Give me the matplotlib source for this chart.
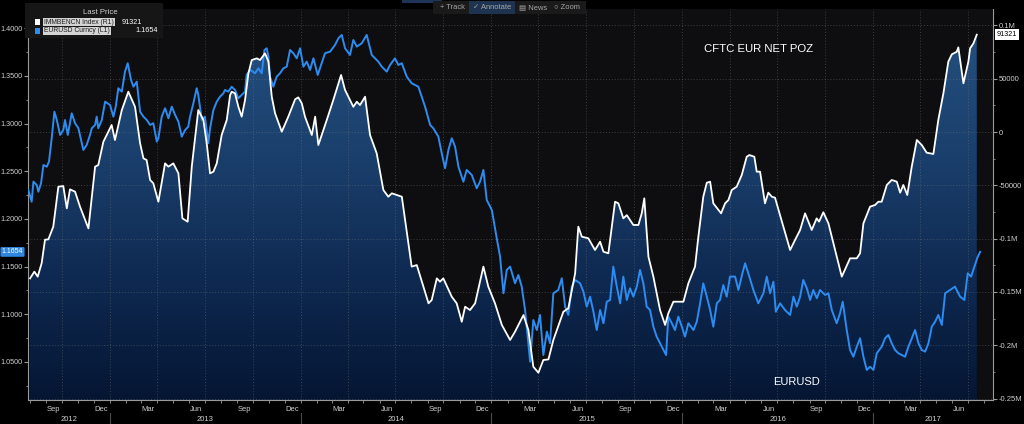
import numpy as np
import pandas as pd
import matplotlib
matplotlib.use("Agg")
import matplotlib.pyplot as plt
import matplotlib.dates as mdates
import matplotlib.transforms as mtransforms
from matplotlib.colors import LinearSegmentedColormap
from matplotlib.patches import Rectangle
from matplotlib.ticker import MultipleLocator, FuncFormatter

plt.rcParams['font.family'] = ['Liberation Sans', 'DejaVu Sans']

# time of each point, in months since 2013-01-01
cftc_m = [-5.03, -4.76, -4.55, -4.30, -4.09, -3.88, -3.57, -3.25, -2.94, -2.72, -2.52, -2.20, -1.89,
          -1.36, -0.94, -0.74, -0.42, 0.10, 0.31, 0.74, 1.15, 1.57, 1.89, 2.10, 2.30, 2.52, 2.72,
          3.04, 3.46, 3.67, 3.98, 4.30, 4.55, 4.88, 5.14, 5.55, 5.87, 6.08, 6.29, 6.50, 6.71, 7.02,
          7.34, 7.55, 7.65, 7.86, 8.07, 8.28, 8.49, 8.70, 8.91, 9.23, 9.43, 9.75, 9.96, 10.17, 10.38,
          10.80, 11.21, 11.64, 11.84, 12.06, 12.26, 12.69, 12.90, 13.10, 13.63, 14.04, 14.53, 14.78,
          15.09, 15.30, 15.52, 15.72, 16.04, 16.35, 16.77, 17.19, 17.50, 17.72, 18.03, 18.35, 18.97,
          19.29, 20.03, 20.23, 20.55, 20.75, 20.96, 21.49, 21.80, 22.12, 22.33, 22.64, 22.96, 23.48,
          23.79, 24.21, 24.64, 25.16, 25.47, 26.00, 26.31, 26.62, 26.94, 27.25, 27.57, 27.88, 28.51,
          28.82, 29.25, 29.45, 29.67, 30.08, 30.50, 30.82, 31.03, 31.34, 31.76, 31.97, 32.28, 32.50,
          32.91, 33.23, 33.44, 33.60, 33.86, 34.17, 34.59, 34.91, 35.11, 35.43, 36.06, 36.37, 36.79,
          37.00, 37.31, 37.53, 37.74, 37.94, 38.43, 38.68, 38.89, 39.10, 39.41, 39.73, 40.04, 40.21,
          40.52, 40.67, 40.88, 41.19, 41.40, 41.62, 41.82, 42.77, 43.08, 43.40, 43.71, 44.13, 44.44,
          44.59, 44.86, 45.18, 45.60, 46.02, 46.54, 46.96, 47.17, 47.38, 47.80, 48.11, 48.32, 48.53,
          48.85, 49.16, 49.48, 49.69, 49.89, 50.14, 50.42, 50.74, 51.05, 51.36, 51.78, 52.09, 52.41,
          52.72, 52.94, 53.25, 53.35, 53.67, 53.98, 54.09, 54.30, 54.51]
# CFTC EUR net position, thousand contracts
cftc_k = [-137.3, -131.0, -135.7, -123.0, -101.0, -100.7, -88.8, -51.3, -50.7, -71.6, -53.8, -56.0, -70.0,
          -90.4, -32.5, -31.0, -9.1, 6.6, -7.5, 20.6, 37.8, 23.7, -10.6, -24.7, -26.3, -45.0, -48.1,
          -65.4, -29.4, -32.5, -29.4, -38.8, -81.0, -84.1, -32.5, 20.6, 11.3, -10.6, -38.8, -37.2, -29.4, -2.8,
          11.3, 34.7, 37.8, 36.3, 23.7, 14.4, 30.0, 55.0, 67.5, 69.1, 67.5, 73.8, 66.0, 33.1, 17.5,
          0.3, 14.4, 30.7, 32.5, 26.9, 14.4, -2.8, 14.4, -12.2, 11.3, 30.0, 53.5, 39.4,
          30.0, 23.7, 28.4, 25.3, 33.1, -2.8, -20.0, -54.4, -60.7, -57.5, -59.1, -60.7, -126.3,
          -124.8, -160.7, -157.6, -137.3, -140.4, -137.3, -154.5, -160.7, -178.0, -163.9, -167.0, -160.7, -126.3,
          -145.1, -160.7, -181.0, -195.1, -187.3, -171.7, -185.7, -220.2, -225.8, -213.9, -213.3, -195.1, -168.6,
          -165.4, -132.6, -88.8, -98.2, -99.7, -110.7, -102.9, -112.3, -113.8, -65.4, -66.9, -81.0, -78.0,
          -87.2, -87.2, -76.3, -62.2, -117.0, -135.7, -167.0, -181.0, -170.1, -159.2, -159.2, -142.0, -126.3,
          -98.2, -60.7, -47.6, -46.6, -66.9, -76.3, -66.9, -63.8, -54.4, -51.3, -40.3, -23.2, -21.6,
          -23.2, -37.2, -37.2, -66.9, -56.9, -60.7, -61.6, -110.7, -101.3, -91.9, -76.3, -91.9, -81.0,
          -84.1, -75.3, -85.7, -110.7, -135.7, -118.5, -118.5, -113.8, -85.7, -70.0, -68.5, -65.4, -65.4,
          -49.7, -45.0, -46.6, -56.9, -49.7, -59.1, -32.5, -7.5, -12.2, -19.4, -20.6, 11.3, 36.3,
          66.0, 72.9, 75.3, 79.4, 45.7, 66.0, 78.5, 83.2, 91.321]

eur_m = [-5.14, -4.93, -4.82, -4.61, -4.51, -4.34, -4.19, -3.98, -3.84, -3.67, -3.50, -3.35, -3.14, -2.94,
         -2.83, -2.66, -2.41, -2.20, -1.99, -1.68, -1.47, -1.26, -1.15, -0.94, -0.84, -0.74, -0.52, -0.31,
         0.00, 0.21, 0.36, 0.52, 0.74, 0.94, 1.11, 1.32, 1.47, 1.68, 1.89, 2.10, 2.31, 2.52, 2.72, 2.94,
         3.04, 3.25, 3.46, 3.67, 3.88, 4.09, 4.30, 4.51, 4.72, 4.92, 5.03, 5.24, 5.45, 5.55, 5.77, 5.97,
         6.18, 6.29, 6.50, 6.71, 6.92, 7.13, 7.23, 7.44, 7.65, 7.86, 8.07, 8.28, 8.49, 8.59, 8.81, 9.12,
         9.33, 9.54, 9.71, 9.85, 9.96, 10.06, 10.27, 10.48, 10.69, 10.90, 11.11, 11.32, 11.53, 11.74, 11.95,
         12.16, 12.37, 12.58, 12.79, 13.06, 13.31, 13.52, 13.84, 14.15, 14.36, 14.57, 14.78, 15.09, 15.30,
         15.52, 15.83, 16.14, 16.46, 16.87, 17.09, 17.40, 17.61, 17.92, 18.13, 18.35, 18.66, 18.97, 19.39,
         19.60, 19.81, 20.13, 20.33, 20.65, 20.86, 21.07, 21.28, 21.49, 21.70, 21.91, 22.22, 22.43, 22.75,
         23.06, 23.27, 23.48, 23.69, 24.01, 24.32, 24.53, 24.74, 24.95, 25.16, 25.47, 25.68, 25.89, 26.10,
         26.31, 26.42, 26.62, 26.84, 27.04, 27.25, 27.47, 27.67, 27.88, 28.19, 28.41, 28.62, 28.82, 29.04,
         29.25, 29.56, 29.77, 29.98, 30.19, 30.40, 30.61, 30.82, 31.03, 31.24, 31.45, 31.65, 31.87, 32.08,
         32.28, 32.50, 32.70, 32.91, 33.13, 33.33, 33.54, 33.75, 33.96, 34.17, 34.38, 34.59, 34.80, 34.97,
         35.11, 35.33, 35.53, 35.74, 35.96, 36.16, 36.37, 36.69, 36.90, 37.11, 37.31, 37.53, 37.74, 37.94,
         38.16, 38.36, 38.57, 38.78, 38.99, 39.31, 39.52, 39.77, 39.94, 40.14, 40.46, 40.77, 41.09, 41.30,
         41.51, 41.72, 41.87, 42.14, 42.45, 42.77, 42.98, 43.19, 43.40, 43.60, 43.82, 44.03, 44.23, 44.45,
         44.65, 44.97, 45.18, 45.39, 45.70, 45.91, 46.08, 46.33, 46.54, 46.75, 46.96, 47.17, 47.38, 47.59,
         47.80, 48.01, 48.22, 48.53, 48.74, 48.95, 49.16, 49.37, 49.58, 49.79, 50.00, 50.21, 50.42, 50.63,
         50.84, 51.05, 51.26, 51.47, 51.68, 51.89, 52.09, 52.31, 52.52, 52.83, 53.14, 53.46, 53.73, 53.94,
         54.15, 54.36, 54.57, 54.72]
eur_v = [1.2304, 1.2181, 1.2391, 1.2356, 1.2286, 1.2374, 1.2566, 1.2548, 1.2601, 1.2846, 1.3125, 1.3038, 1.2881, 1.2933,
         1.3038, 1.2881, 1.3108, 1.3004, 1.2951, 1.2724, 1.2776, 1.2881, 1.2951, 1.2986, 1.3073, 1.2951, 1.3038, 1.3230,
         1.3195, 1.3073, 1.3178, 1.3371, 1.3335, 1.3545, 1.3633, 1.3458, 1.3387, 1.3440, 1.3125, 1.3073, 1.3038, 1.2986, 1.3004, 1.2811,
         1.2846, 1.3073, 1.3161, 1.3056, 1.3178, 1.3091, 1.3020, 1.2863, 1.2933, 1.2968, 1.3073, 1.3213, 1.3371, 1.3300, 1.3038, 1.3073,
         1.2794, 1.2951, 1.3143, 1.3230, 1.3283, 1.3318, 1.3353, 1.3335, 1.3387, 1.3353, 1.3266, 1.3300, 1.3335, 1.3510, 1.3563, 1.3528,
         1.3580, 1.3528, 1.3772, 1.3790, 1.3702, 1.3492, 1.3387, 1.3492, 1.3528, 1.3580, 1.3597, 1.3772, 1.3738, 1.3685, 1.3790,
         1.3597, 1.3650, 1.3563, 1.3685, 1.3510, 1.3633, 1.3738, 1.3755, 1.3825, 1.3895, 1.3930, 1.3790, 1.3720, 1.3877,
         1.3807, 1.3843, 1.3930, 1.3720, 1.3650, 1.3597, 1.3545, 1.3615, 1.3685, 1.3615, 1.3633, 1.3492, 1.3423, 1.3387,
         1.3283, 1.3178, 1.2986, 1.2951, 1.2863, 1.2689, 1.2532, 1.2724, 1.2846, 1.2758, 1.2548, 1.2391, 1.2514, 1.2461,
         1.2322, 1.2391, 1.2514, 1.2199, 1.2094, 1.1797, 1.1604, 1.1220, 1.1465, 1.1500, 1.1325, 1.1412, 1.1290, 1.1045,
         1.0696, 1.0503, 1.0940, 1.0835, 1.0993, 1.0573, 1.0818, 1.0696, 1.1220, 1.1255, 1.1378, 1.1080, 1.0993, 1.1290,
         1.1360, 1.1325, 1.1237, 1.1080, 1.1185, 1.1027, 1.0835, 1.1045, 1.0906, 1.1132, 1.1150, 1.1500, 1.1290, 1.1115,
         1.1395, 1.1150, 1.1273, 1.1185, 1.1290, 1.1465, 1.1325, 1.1080, 1.1045, 1.0870, 1.0765, 1.0696, 1.0626, 1.0573,
         1.0975, 1.0906, 1.0835, 1.0975, 1.0870, 1.0765, 1.0906, 1.0835, 1.0922, 1.1115, 1.1325, 1.1185, 1.1045, 1.0870,
         1.1115, 1.1150, 1.1307, 1.1185, 1.1395, 1.1395, 1.1255, 1.1430, 1.1535, 1.1430, 1.1255, 1.1115, 1.1220, 1.1395,
         1.1220, 1.1342, 1.1027, 1.1115, 1.1045, 1.0993, 1.1185, 1.1080, 1.1185, 1.1360, 1.1273, 1.1150, 1.1255, 1.1168,
         1.1255, 1.1203, 1.1220, 1.1045, 1.0906, 1.1010, 1.1132, 1.0835, 1.0626, 1.0555, 1.0660, 1.0748, 1.0555, 1.0416,
         1.0450, 1.0416, 1.0591, 1.0660, 1.0748, 1.0783, 1.0696, 1.0626, 1.0591, 1.0573, 1.0555, 1.0660, 1.0748, 1.0835,
         1.0696, 1.0626, 1.0608, 1.0696, 1.0870, 1.0922, 1.0993, 1.0888, 1.1220, 1.1255, 1.1290, 1.1185, 1.1150, 1.1430,
         1.1395, 1.1500, 1.1604, 1.1654]

last_cftc = 91321
last_eur = 1.1654
years = [2012, 2013, 2014, 2015, 2016, 2017]

BASE = pd.Timestamp('2013-01-01')


def to_num(months):
    td = pd.to_timedelta(np.asarray(months, dtype=float) * 30.4375, unit='D')
    return mdates.date2num((BASE + td).to_numpy())


def fx(x):
    return x / 1024.0


def fy(y):
    return 1 - y / 424.0


BG = '#0e0e11'
AX_COL = '#9a9a9a'
TXT = '#cfcfcf'
LBL = 5.2
GRID = dict(color='#7a7a7a', alpha=0.45, linestyle=(0, (1, 2)), linewidth=0.7)

fig = plt.figure(figsize=(10.24, 4.24), dpi=100, facecolor='black')
ax = fig.add_axes([fx(28), 1 - 400 / 424, (993 - 28) / 1024, (400 - 9) / 424])
ax2 = ax.twinx()
ax.set_zorder(2)
ax2.set_zorder(1)
ax.patch.set_visible(False)
ax2.patch.set_visible(True)
ax2.patch.set_facecolor(BG)

cx = to_num(cftc_m)
cy = np.array(cftc_k) * 1000
ex = to_num(eur_m)

ylo2, yhi2 = -251400, 115400
xlim = to_num([-5.16, 55.53])

# gradient fill under the CFTC line
poly = ax2.fill_between(cx, cy, ylo2, facecolor='none', edgecolor='none')
cmap = LinearSegmentedColormap.from_list('fill', ['#051633', '#0f2a52', '#1b406d', '#24507f'])
grad = np.linspace(0, 1, 256).reshape(-1, 1)
im = ax2.imshow(grad, extent=[cx[0], cx[-1], ylo2, 100000], origin='lower', aspect='auto',
                cmap=cmap, zorder=1, interpolation='bilinear')
im.set_clip_path(poly.get_paths()[0], transform=ax2.transData)

# grid
ax2.set_axisbelow('line')
ax2.yaxis.grid(True, which='major', **GRID)
for q in pd.date_range('2012-10-01', '2017-07-01', freq='QS'):
    ax2.axvline(mdates.date2num(q), zorder=1.5, **GRID)

# lines
ax.plot(ex, eur_v, color='#2d8cf0', lw=1.4, zorder=3, solid_joinstyle='round')
ax.plot(cx, cy, color='white', lw=1.3, zorder=4, transform=ax2.transData, solid_joinstyle='round')

ax.set_xlim(*xlim)
ax.set_ylim(1.0101, 1.4202)
ax2.set_ylim(ylo2, yhi2)

# left axis
ax.yaxis.set_major_locator(MultipleLocator(0.05))
ax.yaxis.set_minor_locator(MultipleLocator(0.025))
ax.yaxis.set_major_formatter(FuncFormatter(lambda v, p: f'{v:.4f}'))
ax.tick_params(axis='y', which='major', direction='out', length=2.8, width=0.8, color=AX_COL,
               labelcolor=TXT, labelsize=LBL, pad=0.8)
ax.tick_params(axis='y', which='minor', direction='out', length=1.6, width=0.6, color=AX_COL)


# right axis
def right_fmt(v, p):
    if abs(v) >= 100000:
        return f'{v / 1e6:g}M'
    return f'{int(round(v))}'


ax2.yaxis.set_major_locator(MultipleLocator(50000))
ax2.yaxis.set_minor_locator(MultipleLocator(25000))
ax2.yaxis.set_major_formatter(FuncFormatter(right_fmt))
ax2.tick_params(axis='y', which='major', direction='out', length=2.8, width=0.8, color=AX_COL,
                labelcolor=TXT, labelsize=LBL + 0.3, pad=1.0)
ax2.tick_params(axis='y', which='minor', direction='out', length=1.6, width=0.6, color=AX_COL)

# time axis
ax.xaxis.set_major_locator(mdates.MonthLocator(bymonth=[3, 6, 9, 12], bymonthday=15))
ax.xaxis.set_major_formatter(mdates.DateFormatter('%b'))
ax.xaxis.set_minor_locator(mdates.MonthLocator())
ax.tick_params(axis='x', which='major', length=0, labelcolor=TXT, labelsize=LBL + 0.3, pad=4)
ax.tick_params(axis='x', which='minor', direction='out', length=2.2, width=0.6, color=AX_COL)

for s in ['top', 'right']:
    ax.spines[s].set_visible(False)
for s in ['top', 'left', 'bottom']:
    ax2.spines[s].set_visible(False)
ax.spines['left'].set_color(AX_COL)
ax.spines['bottom'].set_color(AX_COL)
ax2.spines['right'].set_color(AX_COL)

trans = mtransforms.blended_transform_factory(ax.transData, ax.transAxes)
for yr in years:
    a = max(mdates.date2num(pd.Timestamp(f'{yr}-01-01')), xlim[0])
    b = min(mdates.date2num(pd.Timestamp(f'{yr + 1}-01-01')), xlim[1])
    ax.text((a + b) / 2, -0.05, str(yr), transform=trans, ha='center', va='center',
            color=TXT, fontsize=LBL + 0.3)
    if yr > years[0]:
        ax.plot([a, a], [-0.032, -0.065], transform=trans, clip_on=False, color='#4a4a4a', lw=0.8)

# last value tags
ax2.text(1.004, last_cftc, f'{last_cftc}', transform=mtransforms.blended_transform_factory(ax2.transAxes, ax2.transData),
         ha='left', va='center', fontsize=LBL, color='black',
         bbox=dict(facecolor='white', edgecolor='none', boxstyle='square,pad=0.25'))
ax.text(-0.005, last_eur, f'{last_eur:.4f}', transform=mtransforms.blended_transform_factory(ax.transAxes, ax.transData),
        ha='right', va='center', fontsize=LBL - 0.2, color='white',
        bbox=dict(facecolor='#2f86e0', edgecolor='none', boxstyle='round,pad=0.2'))

# series annotations
ax.text(0.7575, 0.898, 'CFTC EUR NET POZ', transform=ax.transAxes, ha='center', va='center',
        color='white', fontsize=8.2)
ax.text(0.796, 0.046, 'EURUSD', transform=ax.transAxes, ha='center', va='center',
        color='white', fontsize=8)

# legend panel
fig.add_artist(Rectangle((fx(25), fy(38)), fx(163) - fx(25), 35 / 424, transform=fig.transFigure,
                         facecolor='#161616', edgecolor='none', zorder=10))
fig.text(fx(100), fy(13), 'Last Price', ha='center', va='center', color=TXT, fontsize=5.6, zorder=11)
rows = [('IMMBENCN Index (R1)', f'{last_cftc}', 'white', 22, fx(122), 'left'),
        ('EURUSD Curncy (L1)', f'{last_eur:.4f}', '#2d8cf0', 31, fx(158), 'right')]
for name, val, col, yy, vx, vha in rows:
    fig.add_artist(Rectangle((fx(35), fy(yy + 2.5)), 5 / 1024, 5 / 424, transform=fig.transFigure,
                             facecolor=col, edgecolor='none', zorder=11))
    fig.text(fx(44), fy(yy), name, ha='left', va='center', color='#1e1e1e', fontsize=4.9, zorder=11,
             bbox=dict(facecolor='#d4d4d4', edgecolor='none', boxstyle='square,pad=0.12'))
    fig.text(vx, fy(yy), val, ha=vha, va='center', color='white', fontsize=5.2, zorder=11)

# toolbar
fig.add_artist(Rectangle((fx(402), fy(3)), fx(442) - fx(402), 3 / 424, transform=fig.transFigure,
                         facecolor='#1d3658', edgecolor='none', zorder=10))
fig.add_artist(Rectangle((fx(433), fy(14)), fx(586) - fx(433), 13 / 424, transform=fig.transFigure,
                         facecolor='#1a1a1a', edgecolor='none', zorder=10))
fig.add_artist(Rectangle((fx(469), fy(14)), fx(515) - fx(469), 13 / 424, transform=fig.transFigure,
                         facecolor='#1e3350', edgecolor='none', zorder=10))
for label, xx in [('+ Track', 452), ('\u2713 Annotate', 492), ('\u25a4 News', 533), ('\u25cb Zoom', 567)]:
    fig.text(fx(xx), fy(7.5), label, ha='center', va='center', color='#a8a8a8', fontsize=5.4, zorder=11)

fig.savefig('out.png', dpi=100, facecolor='black')
